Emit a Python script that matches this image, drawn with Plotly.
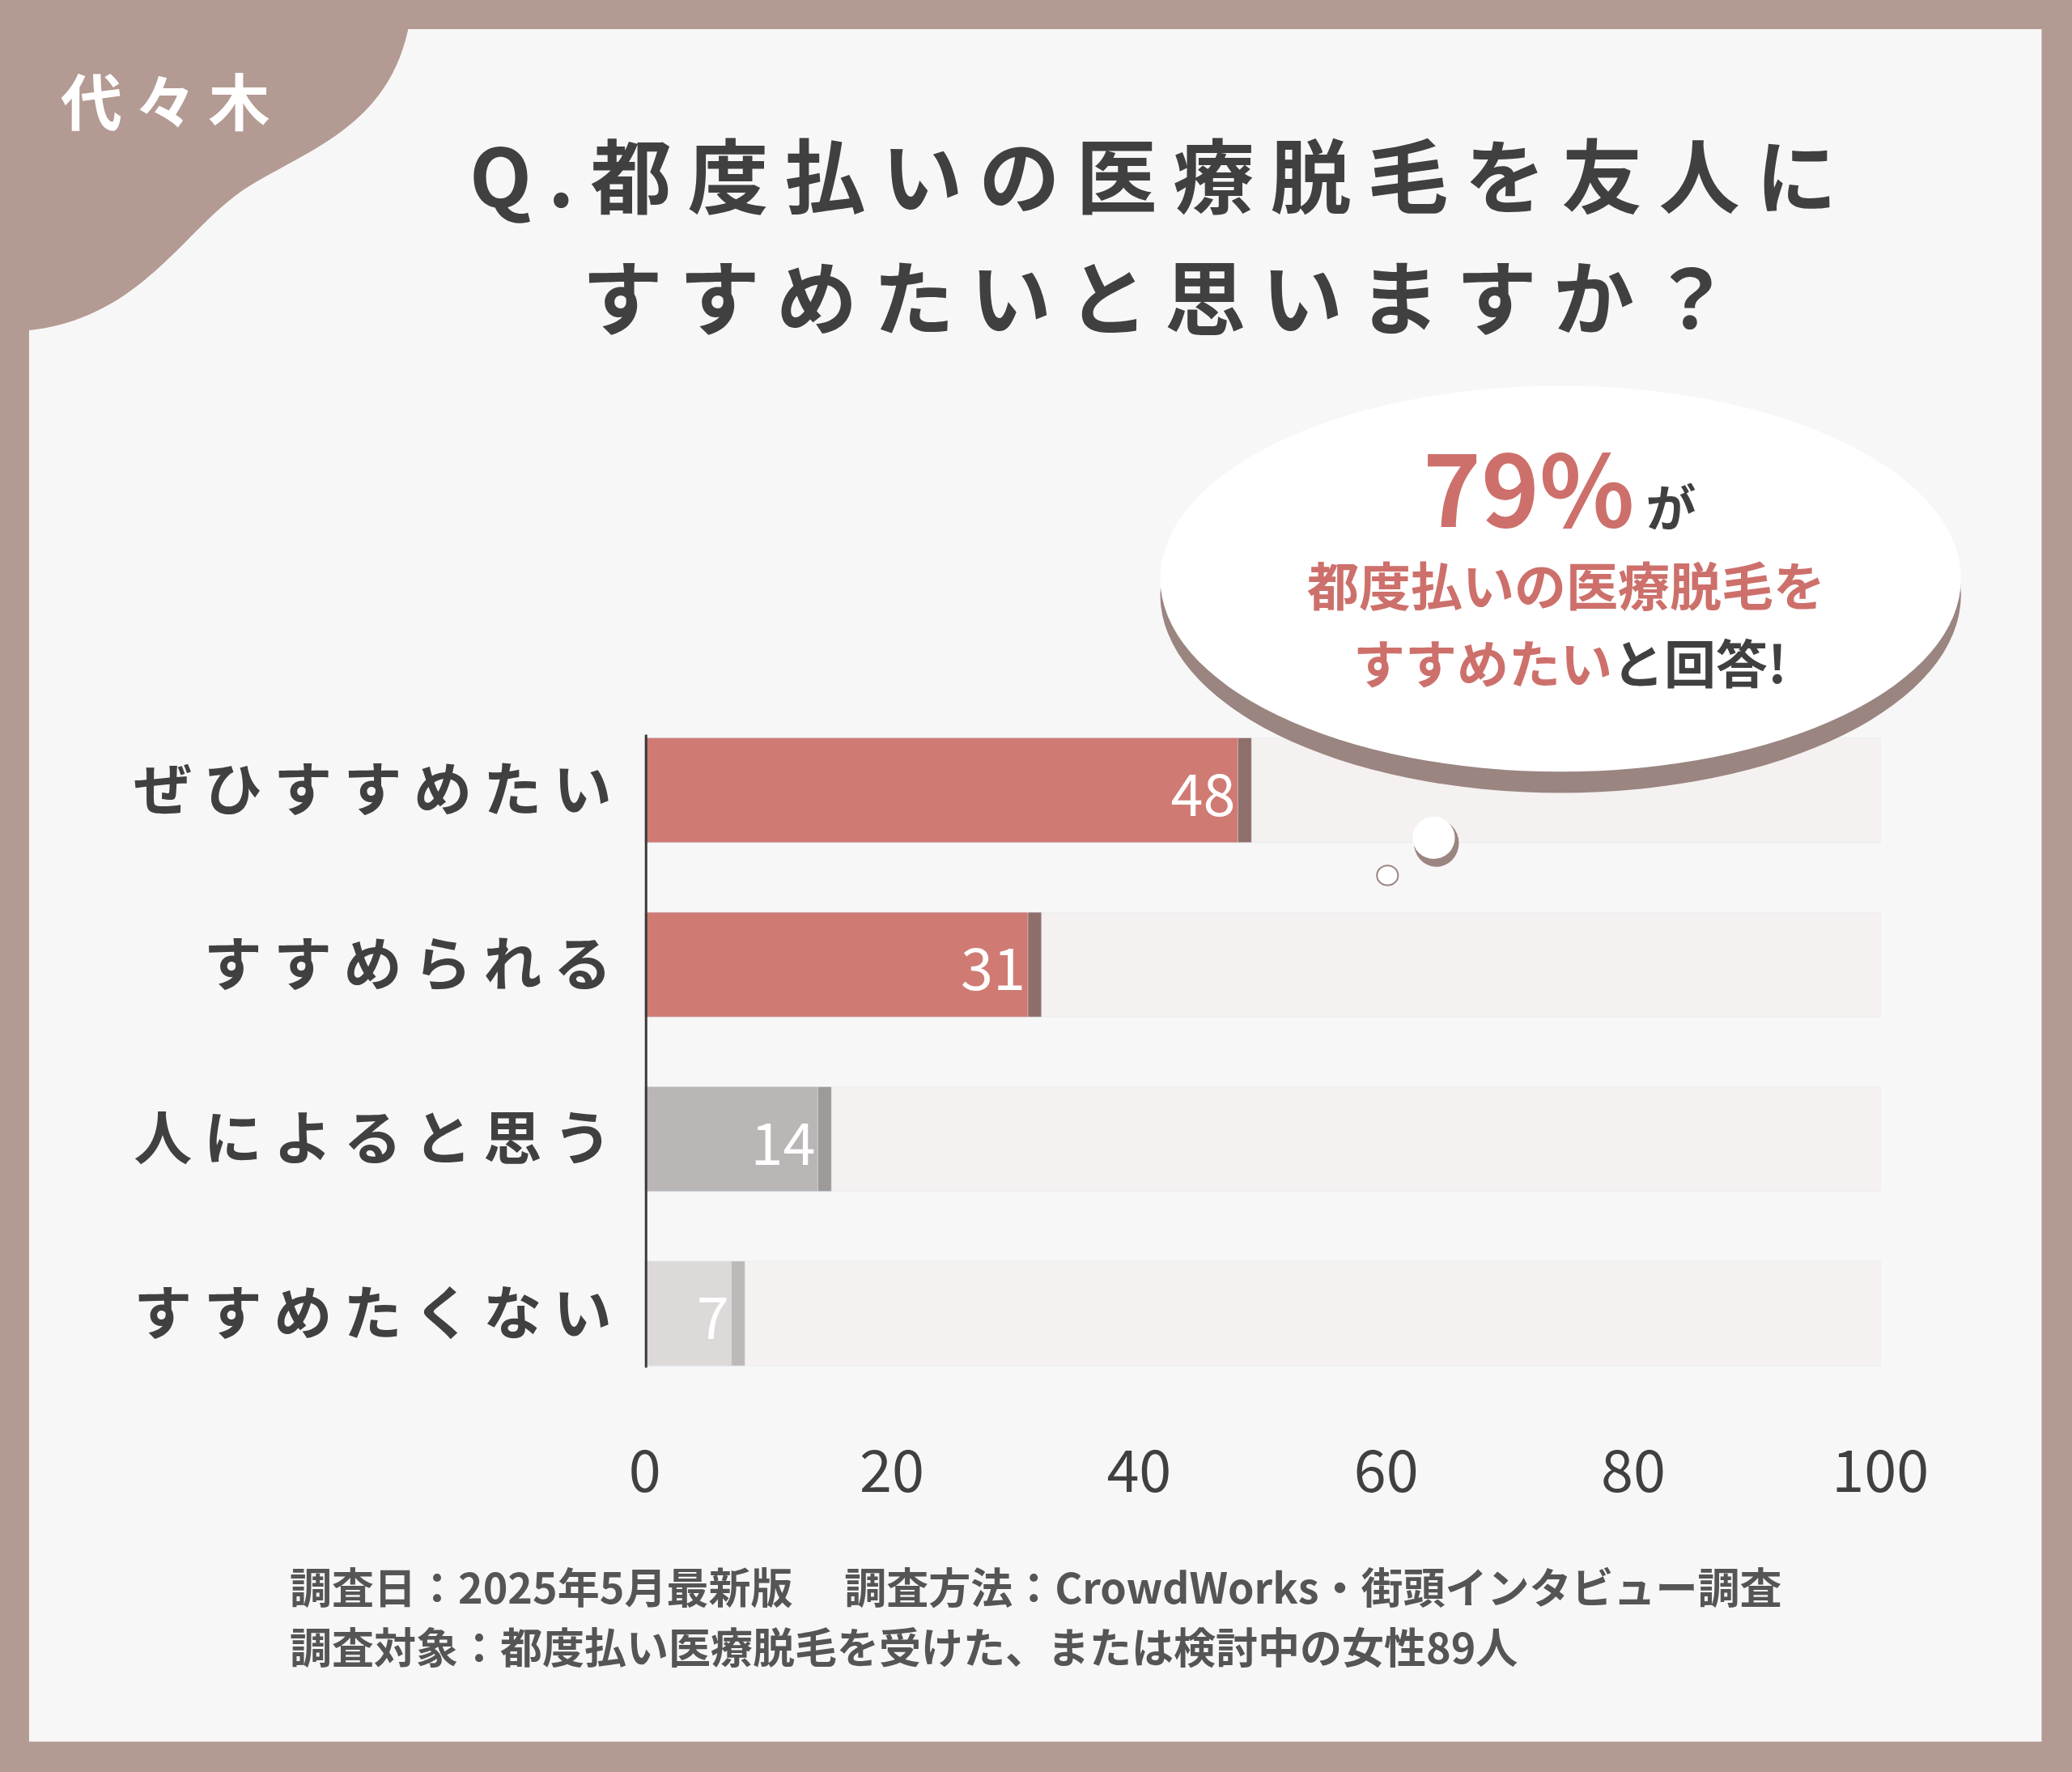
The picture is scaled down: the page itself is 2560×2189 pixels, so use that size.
import plotly.graph_objects as go

categories = ["ぜひすすめたい", "すすめられる", "人によると思う", "すすめたくない"]
values = [48, 31, 14, 7]
bar_colors = ["#d07a74", "#d07a74", "#bab6b5", "#dcd9d8"]
shadow_colors = ["#8f6f6b", "#8f6f6b", "#9e9a99", "#bdb9b8"]
x_ticks = [0, 20, 40, 60, 80, 100]

W, H = 1568.0, 1341.0
def px(x): return x / W
def py(y): return 1 - y / H
def sp(s, n=1): return ("\u2009" * n).join(s)

FONT = "Noto Sans CJK JP"
DARK = "#404040"
RED = "#cd706b"

fig = go.Figure()
fig.add_bar(y=categories, x=[100.8]*4, orientation="h", marker_color="#e3dfde", width=0.6, hoverinfo="skip")
fig.add_bar(y=categories, x=[100]*4, orientation="h", marker_color="#f4f1f0", width=0.6, hoverinfo="skip")
fig.add_bar(y=categories, x=[v + 1.1 for v in values], orientation="h", marker_color=shadow_colors, width=0.6, hoverinfo="skip")
fig.add_bar(y=categories, x=values, orientation="h", marker_color=bar_colors, width=0.6,
            text=[str(v) for v in values], textposition="inside", insidetextanchor="end",
            textfont=dict(family=FONT, size=72, color="white"), hoverinfo="skip")

shapes = []
shapes.append(dict(type="rect", xref="paper", yref="paper", x0=px(22), x1=px(1545), y0=py(1318), y1=py(22),
                   fillcolor="#f8f7f7", line_width=0, layer="below"))
blob = "M {},{} L {},{} C {},{} {},{} {},{} C {},{} {},{} {},{} L {},{} Z".format(
    px(0), py(0), px(312), py(0),
    px(305), py(90), px(240), py(110), px(190), py(140),
    px(140), py(170), px(110), py(240), px(22), py(250),
    px(0), py(250))
shapes.append(dict(type="path", xref="paper", yref="paper", path=blob, fillcolor="#b39a92", line_width=0))
shapes.append(dict(type="circle", xref="paper", yref="paper", x0=px(878), x1=px(1484), y0=py(600), y1=py(300),
                   fillcolor="#9a8580", line_width=0))
shapes.append(dict(type="circle", xref="paper", yref="paper", x0=px(878), x1=px(1484), y0=py(584), y1=py(292),
                   fillcolor="white", line_width=0))
shapes.append(dict(type="circle", xref="paper", yref="paper", x0=px(1070), x1=px(1104), y0=py(656), y1=py(620),
                   fillcolor="#9a8580", line_width=0))
shapes.append(dict(type="circle", xref="paper", yref="paper", x0=px(1069), x1=px(1101), y0=py(650), y1=py(618),
                   fillcolor="white", line_width=0))
shapes.append(dict(type="circle", xref="paper", yref="paper", x0=px(1042), x1=px(1058), y0=py(670), y1=py(655),
                   fillcolor="white", line=dict(color="#9a8580", width=2)))
shapes.append(dict(type="line", xref="x", yref="paper", x0=0, x1=0, y0=py(1035), y1=py(556),
                   line=dict(color="#3a3a3a", width=6)))

ann = []
ann.append(dict(text="<b>" + sp("代々木") + "</b>", x=px(125), y=py(75), font=dict(family=FONT, size=76, color="white")))
ann.append(dict(text="<b>" + sp("Q.都度払いの医療脱毛を友人に") + "</b>", x=px(873), y=py(130), font=dict(family=FONT, size=100, color=DARK)))
ann.append(dict(text="<b>" + sp("すすめたいと思いますか？") + "</b>", x=px(875), y=py(222), font=dict(family=FONT, size=100, color=DARK)))
ann.append(dict(text="<b><span style='font-size:122px;color:%s'>79%%</span> が</b>" % RED, x=px(1180), y=py(366),
                font=dict(family=FONT, size=62, color=DARK)))
ann.append(dict(text="<b>都度払いの医療脱毛を</b>", x=px(1185), y=py(441), font=dict(family=FONT, size=64, color=RED)))
ann.append(dict(text="<b>すすめたい<span style='color:%s'>と回答!</span></b>" % DARK, x=px(1188), y=py(500),
                font=dict(family=FONT, size=64, color=RED)))
ann.append(dict(text="<b>調査日：2025年5月最新版　 調査方法：CrowdWorks・街頭インタビュー調査</b>", x=px(218), y=py(1200),
                xanchor="left", font=dict(family=FONT, size=52, color="#555")))
ann.append(dict(text="<b>調査対象：都度払い医療脱毛を受けた、または検討中の女性89人</b>", x=px(218), y=py(1245),
                xanchor="left", font=dict(family=FONT, size=52, color="#555")))
for a in ann:
    a.setdefault("xanchor", "center")
    a.update(xref="paper", yref="paper", showarrow=False, yanchor="middle")

fig.update_layout(
    width=2560, height=2189, margin=dict(l=0, r=0, t=0, b=0, autoexpand=False),
    paper_bgcolor="#b39a92", plot_bgcolor="rgba(0,0,0,0)",
    barmode="overlay", showlegend=False, shapes=shapes, annotations=ann,
    xaxis=dict(domain=[px(488), px(1423)], range=[0, 100], tickvals=x_ticks, showgrid=False, zeroline=False,
               automargin=False, showline=False, ticks="", tickfont=dict(family=FONT, size=72, color=DARK), ticklabelstandoff=40),
    yaxis=dict(domain=[py(1060), py(532)], autorange="reversed", showgrid=False, zeroline=False, automargin=False,
               tickvals=categories, ticktext=["<b>" + sp(c) + "</b>" for c in categories],
               tickfont=dict(family=FONT, size=72, color=DARK), ticks="", ticklabelstandoff=40),
)
fig.write_html("out.html", config={"displayModeBar": False},
               post_script="document.body.style.margin='0';document.body.style.overflow='hidden';")
